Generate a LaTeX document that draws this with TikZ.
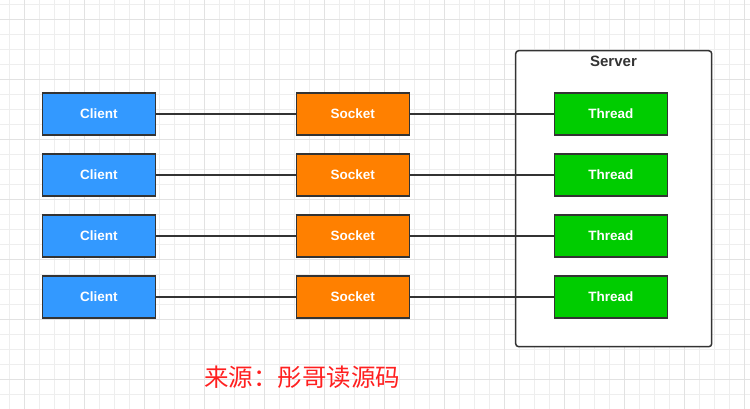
\documentclass[tikz,border=0pt]{standalone}
\usepackage{fontspec}
\setmainfont{Liberation Sans}
\newfontfamily\cjk{Noto Sans CJK SC}
\usetikzlibrary{positioning}
\definecolor{clientblue}{HTML}{3399FF}
\definecolor{socketorange}{HTML}{FF8000}
\definecolor{threadgreen}{HTML}{00CC00}
\definecolor{edgegray}{HTML}{333333}
\definecolor{gridminor}{HTML}{EEEEEE}
\definecolor{gridmajor}{HTML}{E2E2E2}
\definecolor{sourcered}{HTML}{FF2020}

\begin{document}
\begin{tikzpicture}[x=1pt, y=-1pt,
    box/.style={draw=edgegray, line width=1.5pt, minimum width=113pt, minimum height=42pt,
        inner sep=0pt, text=white, font=\bfseries\fontsize{13.5}{13.5}\selectfont},
    client/.style={box, fill=clientblue},
    socket/.style={box, fill=socketorange},
    thread/.style={box, fill=threadgreen},
    link/.style={draw=edgegray, line width=2pt}]
    \useasboundingbox (0,0) rectangle (750,409);
    % grid
    \foreach \x in {9.3,24.3,...,750} \draw[gridminor, line width=1pt] (\x,0) -- (\x,409);
    \foreach \y in {4.3,19.3,...,409} \draw[gridminor, line width=1pt] (0,\y) -- (750,\y);
    \foreach \x in {24.3,84.3,...,750} \draw[gridmajor, line width=1pt] (\x,0) -- (\x,409);
    \foreach \y in {19.3,79.3,...,409} \draw[gridmajor, line width=1pt] (0,\y) -- (750,\y);
    % server
    \node[draw=edgegray, fill=white, line width=1.5pt, rounded corners=3pt,
        minimum width=196pt, minimum height=296pt] (server) at (613.7,198.7) {};
    \node[text=edgegray, font=\bfseries\fontsize{15}{15}\selectfont] (serverlabel) at (613.5,61) {Server};
    \foreach \i in {1,...,4} {
        \node[client] (client\i) at (98.8,{114+61*(\i-1)}) {Client};
        \node[socket, right=139.5pt of client\i] (socket\i) {Socket};
        \node[thread, right=143.5pt of socket\i] (thread\i) {Thread};
        \draw[link] (client\i) -- (socket\i) -- (thread\i);
    }
    \node[text=sourcered, font=\cjk\fontsize{24.5}{24.5}\selectfont] (source) at (302,377) {来源：彤哥读源码};
\end{tikzpicture}
\end{document}
